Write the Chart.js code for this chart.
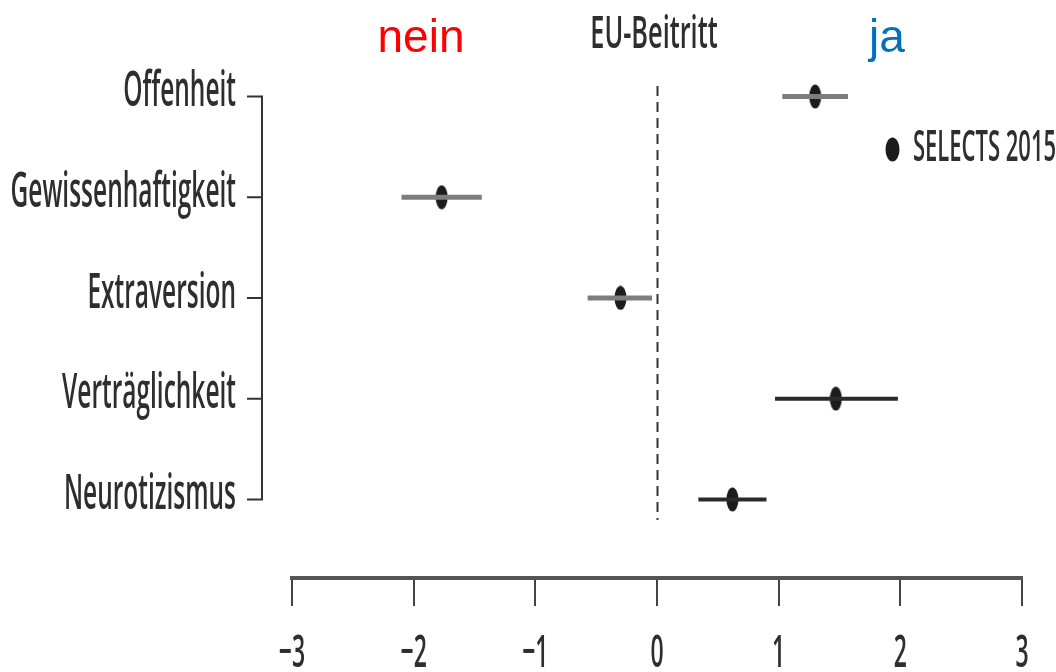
<!DOCTYPE html>
<html>
<head>
<meta charset="utf-8">
<script src="https://cdn.jsdelivr.net/npm/chart.js@4"></script>
<style>
  html, body { margin: 0; padding: 0; background: #fff; }
  #wrap { width: 1056px; height: 672px; }
</style>
</head>
<body>
<div id="wrap"><canvas id="grafico" width="1056" height="672"></canvas></div>
<script>
// ---- daten ----
const kategorien = ["Offenheit", "Gewissenhaftigkeit", "Extraversion", "Verträglichkeit", "Neurotizismus"];
const schaetzer  = [1.30, -1.77, -0.30, 1.47, 0.62];
const untere     = [1.03, -2.10, -0.57, 0.97, 0.34];
const obere      = [1.57, -1.44, -0.04, 1.98, 0.90];
const xTicks     = [-3, -2, -1, 0, 1, 2, 3];
const legendeText = "SELECTS 2015";
const titelLinks = "nein";
const titelMitte = "EU-Beitritt";
const titelRechts = "ja";

// gestauchte Schrift (wie im Original, schmal)
const SCHRIFT = "'Open Sans', 'DejaVu Sans', sans-serif";
const STAUCH = 0.51;

function textSchmal(ctx, text, x, y, groesse, align, farbe, sx){
    ctx.save();
    ctx.translate(x, y);
    ctx.scale(sx || STAUCH, 1);
    ctx.font = "600 " + groesse + "px " + SCHRIFT;
    ctx.fillStyle = farbe || "#2e2e2e";
    ctx.textAlign = align;
    ctx.textBaseline = "middle";
    ctx.fillText(text, 0, 0);
    ctx.restore();
}

// ellipse als punkt
function ellipse(w, h){
    const c = document.createElement("canvas");
    c.width = w; c.height = h;
    const g = c.getContext("2d");
    g.fillStyle = "#1c1c1c";
    g.beginPath();
    g.ellipse(w / 2, h / 2, w / 2 - 0.5, h / 2 - 0.5, 0, 0, Math.PI * 2);
    g.fill();
    return c;
}
const punktBild = ellipse(13, 25);

// KI-linien als eine linie mit luecken
const ciDaten = [];
kategorien.forEach((k, i) => {
    ciDaten.push({x: untere[i], y: i});
    ciDaten.push({x: obere[i], y: i});
    ciDaten.push({x: null, y: null});
});

const punktDaten = kategorien.map((k, i) => ({x: schaetzer[i], y: i}));

// eigene achsen + texte
const zeichner = {
    id: "zeichner",
    beforeDatasetsDraw(chart){
        const ctx = chart.ctx;
        const xs = chart.scales.x;
        const x0 = Math.round(xs.getPixelForValue(0)) + 0.5;
        ctx.save();
        ctx.strokeStyle = "#333";
        ctx.lineWidth = 2;
        ctx.setLineDash([10, 6]);
        ctx.beginPath();
        ctx.moveTo(x0, 86);
        ctx.lineTo(x0, 520);
        ctx.stroke();
        ctx.restore();
    },
    afterDraw(chart){
        const ctx = chart.ctx;
        const xs = chart.scales.x;
        const ys = chart.scales.y;

        // y-achse (R-stil, abgesetzt)
        const ax = 262;
        ctx.save();
        ctx.strokeStyle = "#333";
        ctx.lineWidth = 2;
        ctx.beginPath();
        ctx.moveTo(ax, ys.getPixelForValue(0));
        ctx.lineTo(ax, ys.getPixelForValue(kategorien.length - 1));
        kategorien.forEach((k, i) => {
            const py = ys.getPixelForValue(i);
            ctx.moveTo(ax + 1, py);
            ctx.lineTo(ax - 15, py);
        });
        ctx.stroke();
        ctx.restore();

        kategorien.forEach((k, i) => {
            textSchmal(ctx, k, 236, ys.getPixelForValue(i) - 4, 48, "right");
        });

        // x tick beschriftung
        xTicks.forEach(t => {
            const lbl = t < 0 ? "\u2212" + Math.abs(t) : String(t);
            textSchmal(ctx, lbl, xs.getPixelForValue(t), 654, 46, "center", "#2e2e2e", 0.5);
        });

        // titel
        ctx.save();
        ctx.font = "46px 'Liberation Sans', Arial, sans-serif";
        ctx.textBaseline = "alphabetic";
        ctx.textAlign = "center";
        ctx.fillStyle = "#ff0000";
        ctx.fillText(titelLinks, 421, 52);
        ctx.fillStyle = "#0070c0";
        ctx.fillText(titelRechts, 887, 52);
        ctx.restore();
        textSchmal(ctx, titelMitte, 654, 35, 46, "center", "#2e2e2e", 0.55);

        // legende
        ctx.drawImage(ellipse(15, 25), 885, 137);
        textSchmal(ctx, legendeText, 913, 148, 44, "left", "#2e2e2e", 0.5);
    }
};

new Chart(document.getElementById("grafico"), {
    type: "scatter",
    data: {
        datasets: [
            {
                type: "line",
                label: "KI",
                data: ciDaten,
                showLine: true,
                spanGaps: false,
                pointRadius: 0,
                borderWidth: 5,
                borderCapStyle: "butt",
                borderColor: "#7d7d7d",
                segment: {
                    borderColor: c => c.p0.parsed.y >= 3 ? "#2a2a2a" : "#7d7d7d",
                    borderWidth: c => c.p0.parsed.y >= 3 ? 4 : 5
                }
            },
            {
                label: legendeText,
                data: punktDaten,
                pointStyle: punktBild,
                pointRadius: 12,
                backgroundColor: "#1c1c1c"
            }
        ]
    },
    options: {
        responsive: false,
        animation: false,
        layout: { padding: { top: 36, right: 34, left: 0, bottom: 0 } },
        plugins: {
            legend: { display: false },
            tooltip: { enabled: false }
        },
        scales: {
            x: {
                type: "linear",
                min: -3,
                max: 3,
                afterBuildTicks: s => { s.ticks = xTicks.map(v => ({value: v})); },
                afterFit: s => { s.height = 94; },
                ticks: { display: false },
                grid: {
                    drawOnChartArea: false,
                    drawTicks: true,
                    tickLength: 28,
                    color: "#444",
                    lineWidth: 2
                },
                border: { display: true, color: "#555", width: 4 }
            },
            y: {
                type: "linear",
                reverse: true,
                min: -0.6,
                max: 4.78,
                afterFit: s => { s.width = 292; },
                ticks: { display: false },
                grid: { display: false },
                border: { display: false }
            }
        }
    },
    plugins: [zeichner]
});
</script>
</body>
</html>
